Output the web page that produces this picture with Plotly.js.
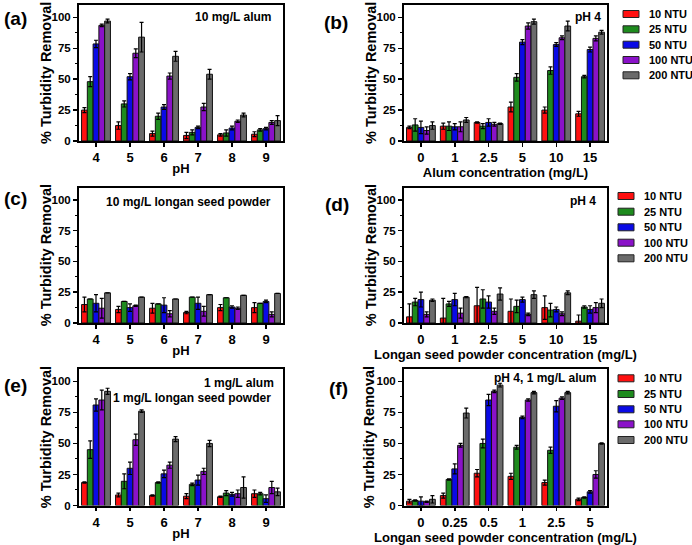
<!DOCTYPE html>
<html><head><meta charset="utf-8">
<script src="https://cdn.plot.ly/plotly-3.0.1.min.js"></script>
<style>html,body{margin:0;padding:0;background:#fff}#chart{width:692px;height:545px}</style>
</head><body><div id="chart"></div>
<script>
// ---------- DATA ----------
const seriesNames = ['10 NTU', '25 NTU', '50 NTU', '100 NTU', '200 NTU'];
const seriesColors = ['#ff1010', '#1e8b1e', '#0a0ae6', '#8a12c8', '#6b6b6b'];

const phCats = ['4', '5', '6', '7', '8', '9'];
const alumCats = ['0', '1', '2.5', '5', '10', '15'];
const longanCats = ['0', '1', '2.5', '5', '10', '15'];
const mixCats = ['0', '0.25', '0.5', '1', '2.5', '5'];

// (a) 10 mg/L alum vs pH  (rows: 10, 25, 50, 100, 200 NTU)
const aVals = [[25, 12.5, 6, 4.5, 5, 5.5], [48, 30, 20, 7, 6.5, 9], [78.5, 52, 27.5, 11, 10.5, 10], [93.5, 71, 52.5, 27.5, 16, 15], [97, 84, 68.5, 54, 21, 16.5]];
const aErr  = [[2, 3, 2, 2.5, 1, 2], [4, 2.5, 2.5, 2, 2.5, 1], [3, 2.5, 2, 1, 1.5, 1], [1, 3.5, 2.5, 3, 1, 1.5], [1.5, 12, 4, 4, 1.5, 4]];
// (b) pH 4 vs alum concentration
const bVals = [[11, 12, 15, 27.5, 25, 22], [13, 12, 12, 51.5, 57, 52], [11, 11.5, 15, 80, 78, 74], [8.5, 11.5, 13.5, 93, 83.5, 83], [12.5, 17, 14, 96.5, 93, 88]];
const bErr  = [[1, 2.5, 0.5, 4, 2.5, 2], [5, 3.5, 2, 3, 3, 1], [5, 2.5, 3, 2, 1.5, 2], [3, 4, 1.5, 2.5, 1.5, 2], [3, 2, 0.5, 2, 4, 1.5]];
// (c) 10 mg/L longan seed powder vs pH
const cVals = [[15, 11, 12, 8.5, 12.5, 12.5], [19.5, 17.5, 15.5, 21, 20.5, 16], [16, 12.5, 14.5, 16, 13, 17.5], [12, 14, 7.5, 9.5, 12, 7], [24.5, 21, 19.5, 23, 22.5, 24]];
const cErr  = [[6, 2.5, 4, 1, 2.5, 4], [0, 0, 0, 0, 0, 0], [7, 3, 6, 5, 1, 1], [8, 0.5, 2.5, 4, 1, 2], [0, 0, 0, 0, 0, 0]];
// (d) pH 4 vs longan seed powder concentration
const dVals = [[5, 4, 14, 9.5, 12.5, 1.5], [17, 15.5, 19.5, 13.5, 10.5, 13], [19, 19, 17, 19, 11, 11], [7, 8, 9.5, 7, 7.5, 12.5], [18.5, 21, 23.5, 23, 24.5, 16]];
const dErr  = [[10.5, 16, 15, 10, 9.5, 5], [3, 2, 7.5, 5, 5.5, 1], [6, 5, 5, 2, 2, 3], [2, 4, 2.5, 1, 1.5, 4], [1, 0.5, 5, 3, 1.5, 3.5]];
// (e) 1 mg/L alum + 1 mg/L longan seed powder vs pH
const eVals = [[18.5, 8.5, 8, 7.5, 7, 9.5], [45, 19.5, 18.5, 17, 10, 9.5], [81, 30, 25.5, 20.5, 9, 5.5], [85, 53, 32.5, 27.5, 9.5, 14.5], [92, 76, 53.5, 50, 14.5, 11]];
const eErr  = [[0.5, 1.5, 0.5, 2, 0.5, 3], [7, 6, 0.5, 1, 2, 1], [5, 5, 3, 4, 1.5, 3], [8, 4.5, 2.5, 2.5, 3, 5], [2.5, 1, 2, 2.5, 8.5, 3]];
// (f) pH 4, 1 mg/L alum vs longan seed powder concentration
const fVals = [[3.5, 8, 26, 23.5, 18.5, 5], [4, 21, 50, 47, 44.5, 6.5], [3.5, 29.5, 85, 71, 80, 11], [3, 48.5, 92, 85, 86.5, 25], [5, 74.5, 97, 91, 91, 50]];
const fErr  = [[1.5, 2, 3, 2.5, 2, 1], [0.5, 0.5, 3.5, 1.5, 2.5, 0.5], [3.5, 4, 4.5, 1, 4.5, 1], [0.5, 1.5, 1, 1, 1, 3], [3, 4, 1.5, 1, 1, 0.5]];

const xTitles = ['pH', 'Alum concentration (mg/L)', 'pH', 'Longan seed powder concentration (mg/L)', 'pH', 'Longan seed powder concentration (mg/L)'];
const yTitle = '% Turbidity Removal';
const panelLetters = ['(a)', '(b)', '(c)', '(d)', '(e)', '(f)'];
const panelNotes = [['10 mg/L alum'], ['pH 4'], ['10 mg/L longan seed powder'], ['pH 4'], ['1 mg/L alum', '1 mg/L longan seed powder'], ['pH 4, 1 mg/L alum']];

// ---------- LAYOUT ----------
const W = 692, H = 545;
const FONT = 'Liberation Sans, Arial, Helvetica, sans-serif';
const px = v => v / W;
const py = v => 1 - v / H;

const colX = [[79, 283], [404, 607]];
const rowY = [[5, 141], [187.5, 323], [369, 505.5]];
const yTitleX = [[46, 371], [46, 371], [46, 369]];

const panelCats = [phCats, alumCats, phCats, longanCats, phCats, mixCats];
const panelVals = [aVals, bVals, cVals, dVals, eVals, fVals];
const panelErrs = [aErr, bErr, cErr, dErr, eErr, fErr];

const traces = [];
const layout = {
  width: W, height: H,
  margin: {l: 0, r: 0, t: 0, b: 0},
  paper_bgcolor: '#fff', plot_bgcolor: '#fff',
  barmode: 'group', bargap: 0.15, bargroupgap: 0,
  showlegend: false,
  font: {family: FONT, color: '#000'},
  annotations: [], shapes: []
};

for (let p = 0; p < 6; p++) {
  const n = p + 1;
  const sfx = n === 1 ? '' : String(n);
  const col = p % 2, row = Math.floor(p / 2);
  const xd = [px(colX[col][0]), px(colX[col][1])];
  const yd = [py(rowY[row][1]), py(rowY[row][0])];
  for (let i = 0; i < 5; i++) {
    traces.push({
      type: 'bar', name: seriesNames[i],
      x: panelCats[p], y: panelVals[p][i],
      xaxis: 'x' + sfx, yaxis: 'y' + sfx,
      marker: {color: seriesColors[i], line: {color: '#111', width: 1}},
      error_y: {type: 'data', array: panelErrs[p][i], visible: true, color: '#000', thickness: 1.2, width: 2},
      showlegend: false, hoverinfo: 'skip'
    });
  }
  layout['xaxis' + sfx] = {
    domain: xd, anchor: 'y' + sfx, type: 'category', range: [-0.5, 5.5],
    showline: true, linewidth: 2, linecolor: '#000', mirror: true,
    ticks: 'outside', ticklen: 3.5, tickwidth: 1.5, tickcolor: '#000',
    tickfont: {family: FONT, size: 13, weight: 'bold', color: '#000'},
    title: {text: xTitles[p], font: {family: FONT, size: 13, weight: 'bold', color: '#000'}, standoff: 0},
    showgrid: false, zeroline: false, fixedrange: true
  };
  layout['yaxis' + sfx] = {
    domain: yd, anchor: 'x' + sfx, range: [0, 110],
    tickmode: 'array', tickvals: [0, 25, 50, 75, 100],
    showline: true, linewidth: 2, linecolor: '#000', mirror: true,
    ticks: 'outside', ticklen: 4, tickwidth: 1.5, tickcolor: '#000',
    minor: {tickmode: 'array', tickvals: [12.5, 37.5, 62.5, 87.5], ticks: 'outside', ticklen: 2.5, tickwidth: 1, tickcolor: '#000', showgrid: false},
    tickfont: {family: FONT, size: 11.5, weight: 'bold', color: '#000'},
    showgrid: false, zeroline: false, fixedrange: true
  };
  // y-axis title (placed precisely)
  layout.annotations.push({
    text: yTitle, xref: 'paper', yref: 'paper',
    x: px(yTitleX[row][col]), y: py((rowY[row][0] + rowY[row][1]) / 2),
    xanchor: 'center', yanchor: 'middle', textangle: -90, showarrow: false,
    font: {family: FONT, size: 14.5, weight: 'bold', color: '#000'}
  });
}

// panel letters
const letterPos = [[2, 18], [322, 22], [2, 198], [323, 205], [2, 385], [327, 388]];
panelLetters.forEach((t, k) => layout.annotations.push({
  text: t, xref: 'paper', yref: 'paper', x: px(letterPos[k][0]), y: py(letterPos[k][1]),
  xanchor: 'left', yanchor: 'middle', showarrow: false,
  font: {family: FONT, size: 19, weight: 'bold', color: '#000'}
}));

// in-panel notes (right aligned)
const notePos = [[[273, 17]], [[603, 17]], [[273, 202]], [[598, 201]], [[276, 383], [273, 398]], [[598, 378]]];
panelNotes.forEach((lines, k) => lines.forEach((t, j) => layout.annotations.push({
  text: t, xref: 'paper', yref: 'paper', x: px(notePos[k][j][0]), y: py(notePos[k][j][1]),
  xanchor: 'right', yanchor: 'middle', showarrow: false,
  font: {family: FONT, size: 12, weight: 'bold', color: '#000'}
})));

// legends (one per row, right side)
const legendDefs = [
  {sx: [623, 639], tx: 647, rows: [14, 29.3, 44.7, 60, 75.3]},
  {sx: [618, 634], tx: 642, rows: [196, 211.7, 227.3, 242.7, 258.3]},
  {sx: [618, 634], tx: 642, rows: [378.3, 394, 409.3, 424.3, 440]}
];
legendDefs.forEach(L => {
  seriesNames.forEach((nm, i) => {
    const yc = L.rows[i];
    layout.shapes.push({
      type: 'rect', xref: 'paper', yref: 'paper',
      x0: px(L.sx[0]), x1: px(L.sx[1]), y0: py(yc + 3.5), y1: py(yc - 3.5),
      fillcolor: seriesColors[i], line: {color: '#222', width: 1}
    });
    layout.annotations.push({
      text: nm, xref: 'paper', yref: 'paper', x: px(L.tx), y: py(yc),
      xanchor: 'left', yanchor: 'middle', showarrow: false,
      font: {family: FONT, size: 11, weight: 'bold', color: '#000'}
    });
  });
});

Plotly.newPlot('chart', traces, layout, {displayModeBar: false, staticPlot: true});
</script>
</body></html>
